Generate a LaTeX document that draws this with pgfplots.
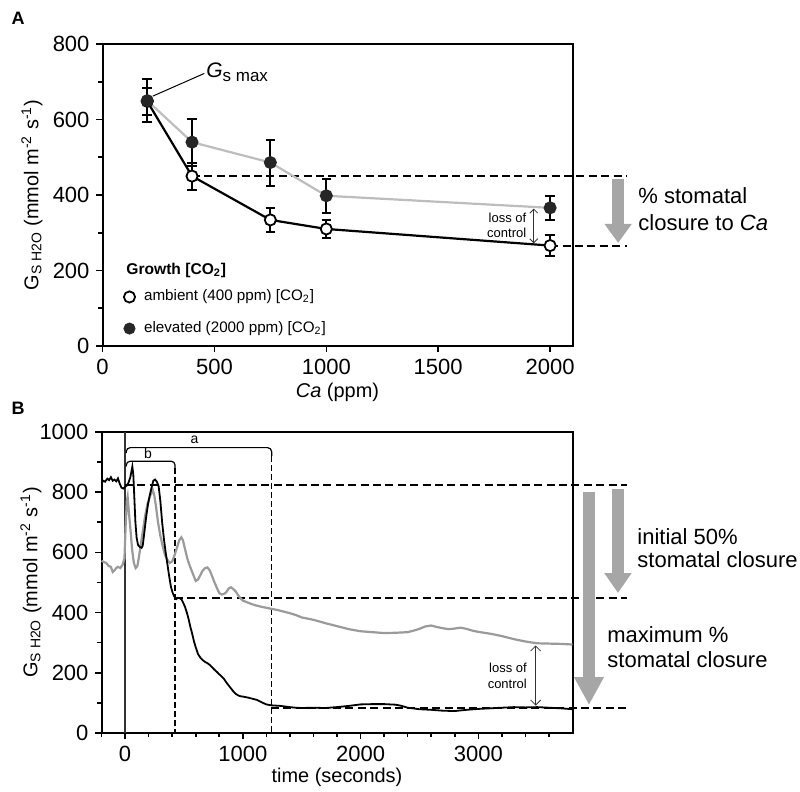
\documentclass[border=0pt]{standalone}
\usepackage{fontspec}
\setmainfont{Liberation Sans}
\usepackage{pgfplots}
\pgfplotsset{compat=1.18}
\usetikzlibrary{arrows.meta}
\definecolor{lgray}{HTML}{BDBDBD}
\definecolor{mgray}{HTML}{9A9A9A}
\definecolor{agray}{HTML}{A6A6A6}
\newcommand{\bigtxt}{\fontsize{11bp}{13bp}\selectfont}
\newcommand{\smalltxt}{\fontsize{6.5bp}{7.8bp}\selectfont}
\newcommand{\ylab}{G\textsubscript{S H2O} (mmol m\textsuperscript{-2} s\textsuperscript{-1})}

\pgfplotstableread{
x y e
200 648 35
400 450 36
750 334 32
1000 310 23
2000 266 27
}\ambient
\pgfplotstableread{
x y e
200 650 57
400 540 62
750 486 61
1000 398 45
2000 366 32
}\elevated
\pgfplotstableread{
t v
-200 830
-185 838
-170 835
-150 845
-135 840
-120 850
-105 838
-90 842
-75 836
-60 846
-45 828
-30 815
-15 812
0 818
15 822
30 832
45 850
62 885
70 860
78 790
88 700
98 650
110 625
125 618
140 615
150 622
165 670
180 720
195 760
210 790
225 815
240 838
255 842
270 835
285 820
300 770
315 700
330 645
345 600
360 560
375 520
390 485
405 465
420 452
435 445
450 449
465 448
480 443
495 432
510 418
525 400
540 378
555 352
570 330
585 305
600 285
620 262
640 250
660 242
680 236
700 232
720 226
740 218
760 210
780 203
800 195
820 188
840 180
860 168
880 158
900 148
920 138
940 130
960 125
980 122
1000 121
1040 118
1080 114
1120 110
1160 102
1200 95
1240 92
1280 91
1320 90
1360 88
1400 86
1450 84
1500 83
1600 84
1700 83
1800 86
1900 90
2000 95
2100 96
2200 96
2300 94
2350 90
2400 84
2500 79
2600 77
2700 74
2800 73
2900 77
3000 80
3100 82
3200 84
3300 86
3400 85
3500 86
3600 84
3700 82
3800 79
}\blacktrace
\pgfplotstableread{
t v
-200 572
-180 568
-160 565
-140 555
-120 552
-105 535
-90 540
-75 548
-60 552
-40 548
-20 560
-5 580
5 690
15 770
22 785
30 745
45 680
60 610
75 565
90 548
105 555
120 590
135 630
150 668
170 720
190 760
210 785
235 808
248 790
262 755
280 700
300 655
320 620
340 590
360 575
380 565
400 570
420 590
440 615
460 640
478 650
492 640
510 610
530 578
550 555
575 530
600 505
620 510
640 525
660 540
680 548
700 550
720 540
740 520
760 500
780 482
800 465
820 460
840 462
860 468
880 480
900 484
920 478
940 470
960 458
980 448
1000 440
1050 432
1100 425
1150 420
1200 416
1250 412
1300 408
1350 403
1400 398
1450 392
1500 384
1600 376
1700 365
1800 355
1900 345
2000 338
2100 335
2200 332
2300 333
2400 335
2450 340
2500 346
2550 354
2600 357
2650 352
2700 348
2750 345
2800 347
2850 350
2900 346
2950 340
3000 336
3100 330
3200 322
3300 312
3400 304
3500 298
3600 297
3700 296
3800 294
}\graytrace

\begin{document}
\begin{tikzpicture}
\useasboundingbox (0,0) rectangle (400bp,396bp);
\pgfplotsset{
  every axis/.append style={
    scale only axis,
    axis line style={line width=1bp},
    tick style={line width=0.8bp, black},
    tick align=outside,
    tick pos=left,
    major tick length=3bp,
    minor tick length=2bp,
    tick label style={font=\bigtxt},
    label style={font=\bigtxt},
    /pgf/number format/assume math mode=true,
    /pgf/number format/set thousands separator={},
    clip=false,
    every axis y label/.style={at={(axis description cs:-0.15,0.5)}, rotate=90, anchor=center},
  }
}
\node[font=\bfseries\fontsize{9bp}{10bp}\selectfont] at (9bp,387bp) {A};
\node[font=\bfseries\fontsize{9bp}{10bp}\selectfont] at (9bp,192bp) {B};

% ---------------- Panel A ----------------
\begin{axis}[
  at={(51.25bp,223bp)}, anchor=south west,
  width=235bp, height=151bp,
  xmin=0, xmax=2100, ymin=0, ymax=800,
  xtick={0,500,1000,1500,2000},
  ytick={0,200,400,600,800},
  minor y tick num=1,
  xlabel={\textit{Ca} (ppm)},
  every axis x label/.style={at={(axis description cs:0.5,-0.152)}, anchor=center},
  ylabel={\ylab},
  legend style={draw=none, fill=none, at={(axis cs:92,160)}, anchor=north west,
    font=\fontsize{7.6bp}{9bp}\selectfont, row sep=4.8bp, inner sep=0pt},
  legend cell align=left,
  legend image code/.code={\path[draw=none, fill=none] (0bp,-1bp) rectangle (8.3bp,1bp); \draw[#1] plot coordinates {(3bp,0bp)};},
]
\draw[dash pattern=on 4bp off 2.2bp, line width=1bp] (axis cs:400,450) -- (axis cs:2345,450);
\draw[dash pattern=on 4bp off 2.2bp, line width=1bp] (axis cs:2000,266) -- (axis cs:2345,266);

\addplot[forget plot, black, line width=1.1bp, mark=*, mark size=2.8bp,
  mark options={fill=white, draw=black, line width=0.9bp, solid},
  error bars/.cd, y dir=both, y explicit,
  error bar style={line width=1bp, black},
  error mark options={rotate=90, mark size=2.4bp, line width=1bp, black}]
  table[x=x, y=y, y error=e] {\ambient};
\addplot[forget plot, lgray, line width=1.1bp, mark=*, mark size=2.8bp,
  mark options={fill=black!85, draw=black!85, line width=0.9bp, solid},
  error bars/.cd, y dir=both, y explicit,
  error bar style={line width=1bp, black},
  error mark options={rotate=90, mark size=2.4bp, line width=1bp, black}]
  table[x=x, y=y, y error=e] {\elevated};

\addlegendimage{only marks, mark=*, mark size=2.8bp, mark options={fill=white, draw=black, line width=0.9bp}}
\addlegendentry{ambient (400 ppm) [CO\textsubscript{2}]}
\addlegendimage{only marks, mark=*, mark size=2.8bp, mark options={fill=black!85, draw=black!85}}
\addlegendentry{elevated (2000 ppm) [CO\textsubscript{2}]}

\node[anchor=west, inner sep=0pt, font=\bfseries\fontsize{7.8bp}{9bp}\selectfont] at (axis cs:105,199.5) {Growth [CO\textsubscript{2}]};

% Gs max
\draw[line width=0.5bp] (axis cs:225,662) -- (axis cs:455,722);
\node[anchor=west, inner sep=0pt] at (axis cs:462,725) {{\fontsize{10.5bp}{12bp}\selectfont\itshape G}{\fontsize{8.5bp}{10bp}\selectfont\raisebox{-0.35ex}{s max}}};

% loss of control
\draw[{Straight Barb[length=2bp,width=4bp]}-{Straight Barb[length=2bp,width=4bp]}, line width=0.4bp, black!80] (axis cs:1927,364) -- (axis cs:1927,272);
\node[anchor=east, align=right, inner sep=0pt, font=\smalltxt] at (axis cs:1895,320) {loss of\\control};

% gray arrow and text
\draw[agray, line width=6bp, -{Triangle[width=13bp,length=9.5bp]}] (axis cs:2304,442) -- (axis cs:2304,273);
\node[anchor=west, inner sep=0pt, font=\bigtxt] at (axis cs:2393,397) {\% stomatal};
\node[anchor=west, inner sep=0pt, font=\bigtxt] at (axis cs:2393,326) {closure to \textit{Ca}};
\end{axis}

% ---------------- Panel B ----------------
\begin{axis}[
  at={(50.75bp,29.5bp)}, anchor=south west,
  width=235.5bp, height=150.5bp,
  xmin=-200, xmax=3800, ymin=0, ymax=1000,
  xtick={0,1000,2000,3000},
  minor xtick={-200,200,400,600,800,1200,1400,1600,1800,2200,2400,2600,2800,3200,3400,3600},
  ytick={0,200,400,600,800,1000},
  minor y tick num=1,
  xlabel={time (seconds)},
  every axis x label/.style={at={(axis description cs:0.5,-0.146)}, anchor=center},
  ylabel={\ylab},
]
\draw[line width=0.6bp, black!80] (axis cs:0,0) -- (axis cs:0,1000);
\draw[dash pattern=on 4bp off 2.2bp, line width=1bp] (axis cs:0,825) -- (axis cs:4263,825);
\draw[dash pattern=on 4bp off 2.2bp, line width=1bp] (axis cs:420,447) -- (axis cs:4263,447);
\draw[dash pattern=on 4bp off 2.2bp, line width=1bp] (axis cs:1240,83) -- (axis cs:4263,83);

% brackets
\draw[line width=0.6bp, rounded corners=2bp] (axis cs:10,886) -- (axis cs:10,903) -- (axis cs:425,903) -- (axis cs:425,880);
\draw[dash pattern=on 3bp off 1.5bp, line width=0.6bp] (axis cs:425,880) -- (axis cs:425,0);
\draw[line width=0.6bp, rounded corners=2bp] (axis cs:10,930) -- (axis cs:10,948) -- (axis cs:1245,948) -- (axis cs:1245,920);
\draw[dash pattern=on 3bp off 1.5bp, line width=0.6bp] (axis cs:1245,920) -- (axis cs:1245,0);
\node[font=\fontsize{7bp}{8bp}\selectfont, inner sep=0pt] at (axis cs:590,975) {a};
\node[font=\fontsize{7bp}{8bp}\selectfont, inner sep=0pt] at (axis cs:195,928) {b};

\addplot[mgray, line width=1.1bp] table[x=t, y=v] {\graytrace};
\addplot[black, line width=0.9bp] table[x=t, y=v] {\blacktrace};

% loss of control
\draw[{Straight Barb[length=2.5bp,width=5bp]}-{Straight Barb[length=2.5bp,width=5bp]}, line width=0.4bp, black!80] (axis cs:3487,291) -- (axis cs:3487,91);
\node[anchor=east, align=right, inner sep=0pt, font=\fontsize{6.5bp}{8bp}\selectfont] at (axis cs:3415,190) {loss of\\control};

% gray arrows and text
\draw[agray, line width=6bp, -{Triangle[width=14bp,length=14bp]}] (axis cs:3940,801) -- (axis cs:3940,93);
\draw[agray, line width=6bp, -{Triangle[width=13bp,length=10bp]}] (axis cs:4186,811) -- (axis cs:4186,465);
\node[anchor=west, inner sep=0pt, font=\bigtxt] at (axis cs:4348,654) {initial 50\%};
\node[anchor=west, inner sep=0pt, font=\bigtxt] at (axis cs:4348,575) {stomatal closure};
\node[anchor=west, inner sep=0pt, font=\bigtxt] at (axis cs:4093,326) {maximum \%};
\node[anchor=west, inner sep=0pt, font=\bigtxt] at (axis cs:4093,243) {stomatal closure};
\end{axis}
\end{tikzpicture}
\end{document}
